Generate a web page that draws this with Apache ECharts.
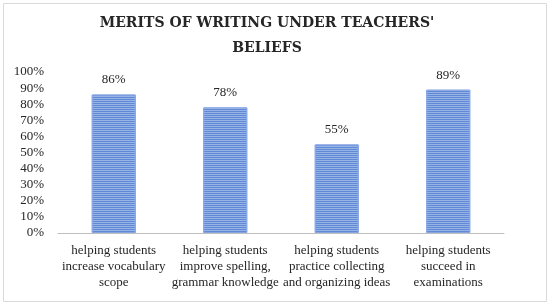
<!DOCTYPE html>
<html><head><meta charset="utf-8">
<script src="https://cdn.jsdelivr.net/npm/echarts@6/dist/echarts.min.js"></script>
<style>html,body{margin:0;padding:0;background:#fff}#c{width:550px;height:305px}</style>
</head><body><div id="c"></div>
<script>
const titleText = "MERITS OF WRITING UNDER TEACHERS'\nBELIEFS";
const categories = [
  "helping students\nincrease vocabulary\nscope",
  "helping students\nimprove spelling,\ngrammar knowledge",
  "helping students\npractice collecting\nand organizing ideas",
  "helping students\nsucceed in\nexaminations"
];
const values = [86, 78, 55, 89];
const yTicks = [0,10,20,30,40,50,60,70,80,90,100];

const chart = echarts.init(document.getElementById('c'), null, {renderer:'canvas'});
const font = 'Liberation Serif';
chart.setOption({
  animation:false,
  graphic:[{type:'rect',shape:{x:3.5,y:3.5,width:543,height:298},style:{fill:'none',stroke:'#d9d9d9',lineWidth:1},silent:true}],
  title:{text:titleText,left:262,textAlign:'center',top:6,textStyle:{fontFamily:'DejaVu Serif',fontWeight:'bold',fontSize:14,color:'#262626',lineHeight:25}},
  grid:{left:58,right:46,top:72,bottom:72},
  xAxis:{type:'category',data:categories,
    axisLine:{lineStyle:{color:'#bfbfbf',width:1}},axisTick:{show:false},
    axisLabel:{interval:0,fontFamily:font,fontSize:13,color:'#262626',lineHeight:16,margin:10}},
  yAxis:{type:'value',min:0,max:100,interval:10,
    axisLine:{show:false},axisTick:{show:false},splitLine:{show:false},
    axisLabel:{formatter:v=>v+'%',fontFamily:font,fontSize:13,color:'#262626',margin:14}},
  series:[{type:'bar',data:values,barWidth:44,
    itemStyle:{color:'#6089d6',borderColor:'#86a5e2',borderWidth:1,
      decal:{symbol:'rect',dashArrayX:[1,0],dashArrayY:[1,1],rotation:0,color:'rgba(255,255,255,0.35)'}},
    label:{show:true,position:'top',distance:8,formatter:p=>p.value+'%',fontFamily:font,fontSize:13,color:'#262626'}}]
});
</script></body></html>
